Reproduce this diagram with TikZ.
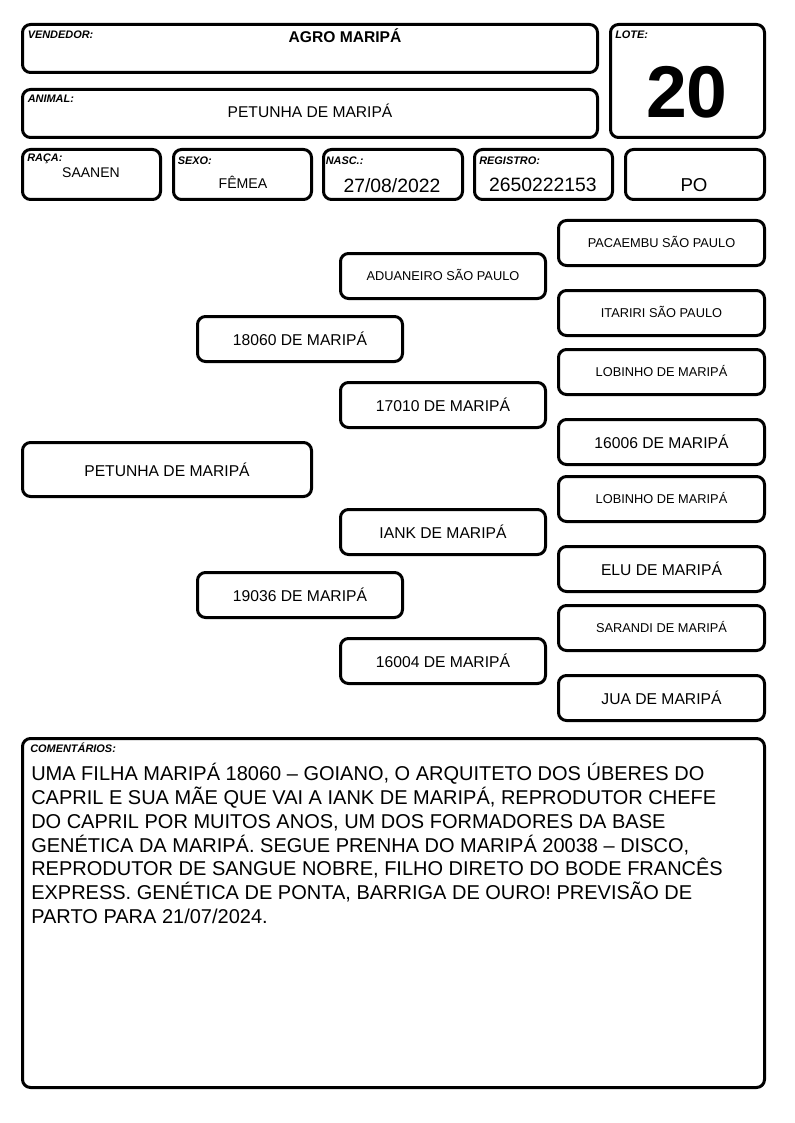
\documentclass[tikz,border=0pt]{standalone}
\usepackage{fontspec}
\setmainfont{Liberation Sans}
\definecolor{qqqqqq}{rgb}{0.,0.,0.}

\begin{document}
\begin{tikzpicture}[line cap=round,line join=round,x=0.75pt,y=-0.75pt,
  caixa/.style 2 args={draw=qqqqqq,line width=2.25pt,rounded corners=6pt,minimum width=#1*0.75pt,minimum height=#2*0.75pt,inner sep=0pt,text height=0.72em,text depth=0pt},
  rotulo/.style={font=\fontsize{8.2}{9}\selectfont\bfseries\itshape,anchor=base west,inner sep=0pt},
  valor/.style={anchor=base,inner sep=0pt},
  grande/.style={font=\fontsize{11.75}{14}\selectfont,text height=10pt},
  pequeno/.style={font=\fontsize{9.6}{11}\selectfont}]
%\draw [color=gray,xstep=50,ystep=50] (0,0) grid (794,1123);
\useasboundingbox (0,0) rectangle (794,1123);
% cabecalho
\node[caixa={575}{48}] (vendedor) at (310,48.5) {};
\node[caixa={575}{48}] (animal) at (310,113.5) {};
\node[caixa={154}{113}] (lote) at (687.5,81) {};
\node[caixa={138}{50}] (raca) at (91.5,174.5) {};
\node[caixa={138}{50}] (sexo) at (242.5,174.5) {};
\node[caixa={139}{50}] (nasc) at (393,174.5) {};
\node[caixa={138}{50}] (registro) at (543.5,174.5) {};
\node[caixa={139}{50}] (categoria) at (695,174.5) {};
\node[rotulo] (vendedorR) at (27.5,39) {VENDEDOR:};
\node[rotulo] (animalR) at (27.5,102.5) {ANIMAL:};
\node[rotulo] (loteR) at (615,39) {LOTE:};
\node[rotulo] (racaR) at (27,162) {RAÇA:};
\node[rotulo] (sexoR) at (177.5,165) {SEXO:};
\node[rotulo] (nascR) at (325.5,165) {NASC.:};
\node[rotulo] (registroR) at (479,165) {REGISTRO:};
\node[valor,font=\fontsize{11.7}{14}\selectfont\bfseries] (vendedorV) at (345,42.3) {AGRO MARIPÁ};
\node[valor,font=\fontsize{11.7}{14}\selectfont] (animalV) at (310,118) {PETUNHA DE MARIPÁ};
\node[valor,font=\fontsize{55}{60}\selectfont\bfseries] (loteV) at (687,118) {20};
\node[valor,font=\fontsize{10.5}{12}\selectfont] (racaV) at (91,178) {SAANEN};
\node[valor,font=\fontsize{10.6}{12}\selectfont] (sexoV) at (243,189) {FÊMEA};
\node[valor,font=\fontsize{14.5}{17}\selectfont] (nascV) at (392,192.5) {27/08/2022};
\node[valor,font=\fontsize{14.5}{17}\selectfont] (registroV) at (543,192) {2650222153};
\node[valor,font=\fontsize{14}{17}\selectfont] (categoriaV) at (694,192) {PO};
% genealogia
\node[caixa={289}{54},grande] (filha) at (167,469.5) {PETUNHA DE MARIPÁ};
\node[caixa={205}{45},grande] (pai) at (300,339) {18060 DE MARIPÁ};
\node[caixa={205}{45},grande] (mae) at (300,595) {19036 DE MARIPÁ};
\node[caixa={205}{45},pequeno] (avoP) at (443,276) {ADUANEIRO SÃO PAULO};
\node[caixa={205}{45},grande] (avaP) at (443,405) {17010 DE MARIPÁ};
\node[caixa={205}{45},grande] (avoM) at (443,532) {IANK DE MARIPÁ};
\node[caixa={205}{45},grande] (avaM) at (443,661) {16004 DE MARIPÁ};
\node[caixa={206}{45},pequeno] (bisavoA) at (661.5,243) {PACAEMBU SÃO PAULO};
\node[caixa={206}{45},pequeno] (bisavaA) at (661.5,313) {ITARIRI SÃO PAULO};
\node[caixa={206}{45},pequeno] (bisavoB) at (661.5,372) {LOBINHO DE MARIPÁ};
\node[caixa={206}{45},grande] (bisavaB) at (661.5,442) {16006 DE MARIPÁ};
\node[caixa={206}{45},pequeno] (bisavoC) at (661.5,499) {LOBINHO DE MARIPÁ};
\node[caixa={206}{45},grande] (bisavaC) at (661.5,569) {ELU DE MARIPÁ};
\node[caixa={206}{45},pequeno] (bisavoD) at (661.5,628) {SARANDI DE MARIPÁ};
\node[caixa={206}{45},grande] (bisavaD) at (661.5,698) {JUA DE MARIPÁ};
% comentarios
\node[caixa={742}{349}] (comentarios) at (393.5,913) {};
\node[rotulo] (comentariosR) at (30,752.5) {COMENTÁRIOS:};
\node[anchor=north west,inner sep=0pt,align=left,font=\fontsize{15}{17.85}\selectfont] (comentariosV) at (31,763) {UMA FILHA MARIPÁ 18060 – GOIANO, O ARQUITETO DOS ÚBERES DO\\
CAPRIL E SUA MÃE QUE VAI A IANK DE MARIPÁ, REPRODUTOR CHEFE\\
DO CAPRIL POR MUITOS ANOS, UM DOS FORMADORES DA BASE\\
GENÉTICA DA MARIPÁ. SEGUE PRENHA DO MARIPÁ 20038 – DISCO,\\
REPRODUTOR DE SANGUE NOBRE, FILHO DIRETO DO BODE FRANCÊS\\
EXPRESS. GENÉTICA DE PONTA, BARRIGA DE OURO! PREVISÃO DE\\
PARTO PARA 21/07/2024.};
\end{tikzpicture}
\end{document}
